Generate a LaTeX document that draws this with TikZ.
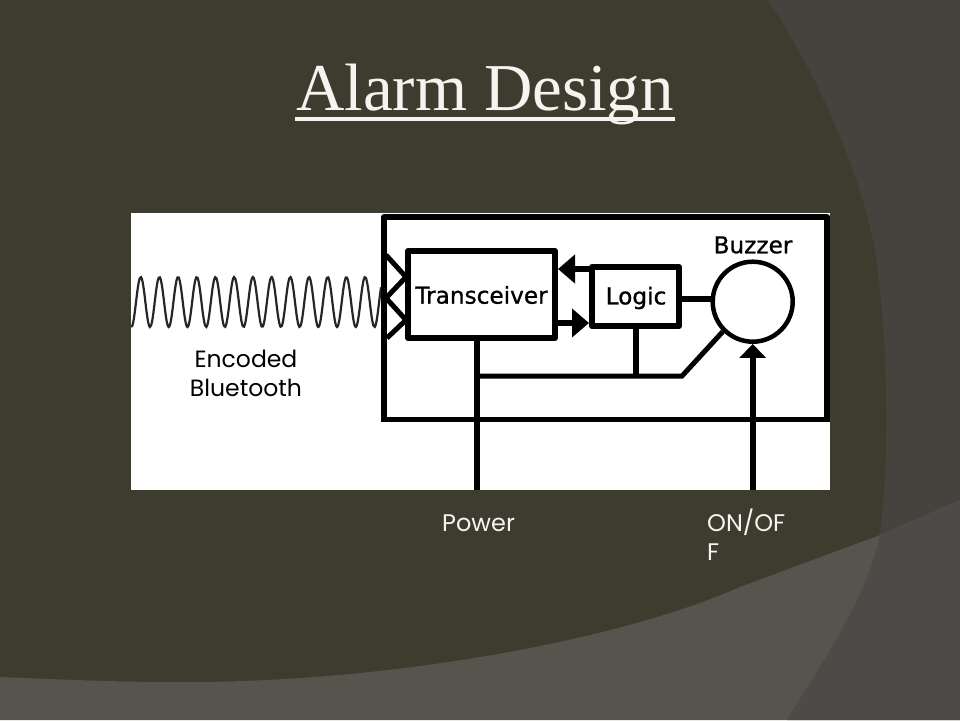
\documentclass[tikz,border=0pt]{standalone}
\usepackage{fontspec}
\setmainfont{Liberation Serif}
\newfontfamily\labelfont{Poppins}
\newfontfamily\blockfont[RawFeature={embolden=0.9}]{DejaVu Sans}
\usetikzlibrary{arrows.meta}
\definecolor{slidebg}{HTML}{3E3C2E}
\definecolor{panelright}{HTML}{44433E}
\definecolor{panelbottom}{HTML}{55544D}
\definecolor{panelcorner}{HTML}{4C4B47}
\definecolor{slidetext}{HTML}{F4F4F0}
\begin{document}
\begin{tikzpicture}[
    x=1pt, y=-1pt,
    blockbox/.style={draw=black, line width=6pt, fill=white, line join=round, inner sep=0pt},
    wire/.style={draw=black, line width=6pt},
    blocklabel/.style={font=\blockfont\fontsize{23.2}{25}\selectfont, text=black, inner sep=0pt},
    slidelabel/.style={font=\labelfont\fontsize{24}{29}\selectfont, inner sep=0pt},
    tip/.style={-{Triangle[length=17pt,width=28pt]}},
    ]

    % slide background
    \useasboundingbox (0,0) rectangle (960,720);
    \fill [slidebg] (0,0) rectangle (960,720);
    \fill [panelright] (768,0) .. controls (815,70) and (860,170) .. (875,250) .. controls (888,340) and (890,450) .. (880,535) -- (960,500) -- (960,0) -- cycle;
    \fill [panelbottom] (0,677) .. controls (70,680) and (150,683) .. (200,682) .. controls (400,680) and (620,640) .. (740,587) -- (880,535) -- (960,500) -- (960,720) -- (0,720) -- cycle;
    \fill [panelcorner] (880,535) -- (960,500) -- (960,720) -- (787,720) .. controls (830,650) and (865,600) .. (880,535) -- cycle;

    % title
    \node [font=\fontsize{67}{70}\selectfont, text=slidetext, anchor=base, inner sep=0pt] (title) at (485,110) {Alarm Design};
    \coordinate (ulstart) at (295,119);
    \coordinate (ulend) at (675,119);
    \draw [slidetext, line width=4pt] (ulstart) -- (ulend);

    % white picture
    \fill [white] (131,213) rectangle (830,490);
    \begin{scope}
      \clip (131,213) rectangle (830,490);
      \draw [black!85, line width=2.2pt, smooth, samples=200, domain=131:381]
        plot (\x, {302-25*cos((\x-140.7)*19.2513)});
      \draw [wire, line join=round] (384,419) -- (384,217) -- (827,217) -- (827,420);
      \draw [wire, line width=5pt] (381,419.5) -- (830,419.5);
    \end{scope}

    % blocks
    \node [blockbox, minimum width=147pt, minimum height=87pt] (trans) at (481.5,294.5) {};
    \node [blocklabel] (translabel) at (481.5,295) {Transceiver};
    \node [blockbox, minimum width=87pt, minimum height=59pt] (logic) at (635.5,296.5) {};
    \node [blocklabel] (logiclabel) at (636,298) {Logic};
    \node [circle, draw=black, line width=4.5pt, fill=white, minimum size=80pt, inner sep=0pt] (buzzer) at (752.7,301.7) {};
    \node [blocklabel, anchor=center] (buzzerlabel) at (753,245) {Buzzer};

    % antenna
    \coordinate (a1) at (386,255);
    \coordinate (a2) at (406,277);
    \coordinate (a3) at (386,298);
    \coordinate (a4) at (406,320);
    \coordinate (a5) at (387,338);
    \draw [black, line width=5pt] (a1) -- (a2) -- (a3) -- (a4) -- (a5);

    % wires
    \coordinate (powerin) at (477,490);
    \coordinate (onoffin) at (752.7,490);
    \coordinate (powerbend) at (477,376);
    \coordinate (logicdrop) at (636,376);
    \coordinate (buzzerbend) at (682,376);
    \draw [wire, tip] (logic.west |- 0,269) -- (trans.east |- 0,269);
    \draw [wire, tip] (trans.east |- 0,323) -- (logic.west |- 0,323);
    \draw [wire] (logic.east |- 0,299) -- ([xshift=3pt]buzzer.west |- 0,299);
    \draw [wire] (powerin) -- (trans.south -| powerin);
    \draw [wire, line width=5pt] (powerbend) -- (buzzerbend) -- (buzzer.225);
    \draw [wire] (logic.south -| logicdrop) -- (logicdrop);
    \draw [wire, -{Triangle[length=14pt,width=26pt]}] (onoffin) -- (buzzer.south);

    % labels
    \node [font=\labelfont\fontsize{23.5}{29}\selectfont, text=black, align=center, inner sep=0pt] (encoded) at (246,373) {Encoded\\Bluetooth};
    \node [slidelabel, text=slidetext, anchor=base west] (power) at (442,531) {Power};
    \node [slidelabel, text=slidetext, anchor=base west] (onoff) at (707,531) {ON/OF};
    \node [slidelabel, text=slidetext, anchor=base west] (onoffb) at (707,560) {F};

\end{tikzpicture}
\end{document}
